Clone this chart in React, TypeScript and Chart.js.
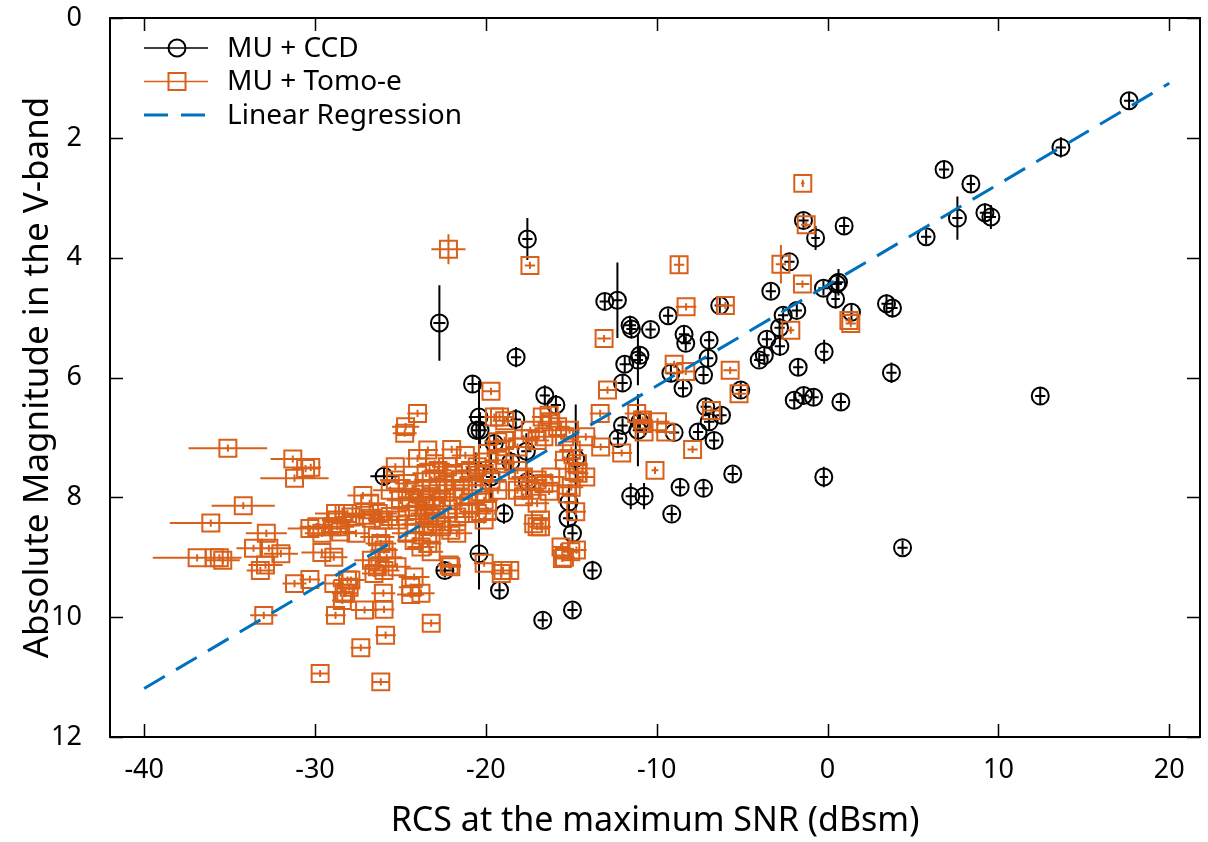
import { useEffect, useRef } from 'react';
import { Chart, registerables } from 'chart.js';

Chart.register(...registerables);

const FONT = "'Noto Sans', 'DejaVu Sans', sans-serif";
const CCD_COLOR = '#000000';
const TOMO_COLOR = '#d9601a';
const FIT_COLOR = '#0072bd';

// Axis ticks
const xTickValues = [-40, -30, -20, -10, 0, 10, 20];
const yTickValues = [0, 2, 4, 6, 8, 10, 12];

// MU + CCD: RCS (dBsm), V-band absolute magnitude and their errors
const ccdRcs = [
  17.65, 13.66, 6.82, 8.39, 7.6, 9.21, 9.56, 5.77, 0.97, -0.7,
  -1.41, 0.64, 0.54, -0.24, 0.47, 1.4, -1.8, 3.45, 3.8, -0.2,
  -1.72, 3.74, -1.95, -1.4, -0.82, 0.78, 12.45, -0.22, 4.39, -2.23,
  -3.32, -6.31, -9.33, -10.36, -11.56, -11.48, -12.3, -13.04, -11.87, -12.0,
  -11.1, -10.98, -8.4, -8.3, -8.46, -9.17, -7.26, -6.93, -6.99, -5.08,
  -3.55, -2.79, -4.0, -3.7, -2.81, -2.6, -7.13, -6.93, -6.21, -7.58,
  -6.64, -8.98, -11.52, -10.74, -8.63, -7.26, -5.55, -9.12, -13.76, -14.93,
  -14.93, -15.19, -15.14, -14.74, -12.0, -12.27, -11.1, -10.98, -17.57, -22.72,
  -18.23, -20.78, -16.55, -15.9, -20.4, -20.34, -20.55, -18.25, -25.96, -19.51,
  -18.54, -17.63, -17.57, -20.6, -19.7, -18.94, -20.4, -22.4, -19.2, -16.67,
];
const ccdMag = [
  1.38, 2.16, 2.53, 2.77, 3.34, 3.25, 3.32, 3.65, 3.47, 3.67,
  3.38, 4.41, 4.44, 4.51, 4.69, 4.91, 4.88, 4.77, 4.84, 5.57,
  5.83, 5.92, 6.38, 6.3, 6.33, 6.41, 6.31, 7.66, 8.84, 4.07,
  4.56, 4.8, 4.97, 5.2, 5.13, 5.19, 4.71, 4.73, 5.78, 6.09,
  5.71, 5.63, 5.28, 5.43, 6.18, 5.93, 5.96, 5.38, 5.68, 6.21,
  5.36, 5.48, 5.71, 5.63, 5.17, 4.96, 6.49, 6.74, 6.63, 6.91,
  7.05, 6.92, 7.98, 7.98, 7.83, 7.85, 7.61, 8.28, 9.22, 9.88,
  8.6, 8.35, 8.08, 7.35, 6.8, 7.02, 6.88, 6.74, 3.69, 5.09,
  5.66, 6.11, 6.3, 6.46, 6.66, 6.88, 6.88, 6.7, 7.65, 7.1,
  7.41, 7.23, 7.74, 7.55, 7.66, 8.27, 8.94, 9.22, 9.55, 10.05,
];
const ccdRcsErr = [
  0.3, 0.3, 0.3, 0.25, 0.3, 0.3, 0.3, 0.3, 0.3, 0.25,
  0.3, 0.3, 0.3, 0.3, 0.25, 0.3, 0.3, 0.3, 0.3, 0.25,
  0.3, 0.3, 0.3, 0.3, 0.3, 0.3, 0.3, 0.25, 0.3, 0.3,
  0.3, 0.3, 0.3, 0.3, 0.35, 0.3, 0.3, 0.3, 0.3, 0.3,
  0.3, 0.3, 0.3, 0.3, 0.3, 0.3, 0.3, 0.3, 0.3, 0.3,
  0.3, 0.3, 0.3, 0.3, 0.3, 0.3, 0.3, 0.3, 0.3, 0.3,
  0.3, 0.3, 0.3, 0.3, 0.3, 0.3, 0.3, 0.3, 0.3, 0.3,
  0.3, 0.3, 0.3, 0.3, 0.3, 0.3, 0.3, 0.3, 0.3, 0.35,
  0.3, 0.3, 0.3, 0.3, 0.6, 0.4, 0.3, 0.3, 0.8, 0.4,
  0.3, 0.3, 0.3, 0.3, 0.3, 0.3, 0.4, 0.5, 0.3, 0.3,
];
const ccdMagErr = [
  0.14, 0.17, 0.15, 0.13, 0.36, 0.16, 0.2, 0.12, 0.13, 0.2,
  0.12, 0.22, 0.12, 0.12, 0.16, 0.13, 0.12, 0.16, 0.16, 0.2,
  0.14, 0.17, 0.13, 0.13, 0.13, 0.13, 0.15, 0.17, 0.12, 0.12,
  0.12, 0.14, 0.12, 0.12, 0.16, 0.16, 0.63, 0.13, 0.13, 0.13,
  0.42, 0.13, 0.13, 0.12, 0.14, 0.14, 0.14, 0.14, 0.14, 0.13,
  0.12, 0.16, 0.12, 0.16, 0.16, 0.12, 0.13, 0.13, 0.13, 0.14,
  0.14, 0.14, 0.22, 0.22, 0.14, 0.14, 0.12, 0.12, 0.16, 0.12,
  0.16, 0.12, 0.3, 0.9, 0.12, 0.12, 0.6, 0.16, 0.35, 0.63,
  0.17, 0.14, 0.17, 0.17, 0.6, 0.3, 0.16, 0.17, 0.16, 0.17,
  0.17, 0.3, 0.22, 0.3, 0.4, 0.17, 0.6, 0.12, 0.14, 0.12,
];

// MU + Tomo-e: RCS (dBsm), V-band absolute magnitude and their errors
const tomoRcs = [
  -35.1, -31.3, -30.55, -30.25, -31.2, -34.2, -36.1, -32.85, -33.6, -32.7,
  -32.0, -36.9, -35.9, -35.6, -35.4, -32.9, -33.2, -30.3, -29.9, -29.6,
  -29.0, -28.7, -28.5, -28.8, -31.2, -30.3, -29.6, -28.9, -28.1, -28.9,
  -28.2, -28.1, -28.4, -28.0, -28.8, -29.7, -33.0, -27.2, -28.3, -27.9,
  -28.7, -27.1, -26.7, -26.3, -26.0, -25.6, -25.2, -24.6, -24.0, -23.6,
  -25.3, -25.6, -24.6, -24.2, -23.2, -22.8, -23.0, -22.8, -23.2, -22.25,
  -21.9, -21.5, -21.3, -20.9, -20.5, -20.1, -21.7, -21.3, -22.05, -21.7,
  -22.6, -23.6, -23.4, -23.2, -23.4, -23.2, -24.6, -24.2, -23.8, -26.35,
  -26.15, -25.96, -25.8, -26.7, -26.35, -25.96, -26.55, -25.2, -24.2, -24.4,
  -23.8, -27.9, -28.3, -27.1, -25.96, -23.2, -25.87, -27.32, -26.15, -22.15,
  -20.1, -19.1, -18.6, -24.0, -24.7, -24.75, -23.4, -25.3, -19.7, -19.5,
  -19.2, -18.9, -19.3, -18.9, -19.9, -19.3, -18.9, -19.7, -19.3, -20.5,
  -20.1, -19.9, -20.5, -20.1, -18.15, -17.8, -17.4, -17.0, -16.6, -18.15,
  -17.8, -17.0, -16.6, -16.2, -18.15, -17.8, -17.4, -17.0, -17.2, -17.0,
  -16.3, -15.8, -15.4, -15.0, -15.4, -14.6, -15.0, -14.7, -15.6, -15.4,
  -16.8, -16.8, -16.7, -16.2, -16.3, -15.1, -17.42, -22.19, -13.08, -12.88,
  -13.31, -14.15, -13.28, -12.05, -11.17, -10.83, -10.74, -9.95, -9.47, -14.15,
  -14.64, -14.83, -14.74, -15.03, -15.52, -15.23, -10.1, -7.9, -8.98, -8.3,
  -5.7, -5.18, -6.8, -8.69, -2.73, -1.47, -8.28, -5.98, -2.15, -1.45,
  -1.25, 1.36, 1.25, -23.8, -23.5, -23.0, -22.6, -22.2, -23.3, -22.9,
  -24.1, -22.4, -21.9, -24.4, -23.5, -21.0, -20.8, -21.2, -22.0, -24.0,
  -25.0, -26.8, -27.6, -26.0, -24.4, -22.05, -19.0,
];
const tomoMag = [
  7.18, 7.36, 7.52, 7.5, 7.68, 8.14, 8.43, 8.6, 8.85, 8.85,
  8.94, 9.01, 9.01, 9.01, 9.05, 9.13, 9.22, 8.52, 8.49, 8.6,
  8.49, 8.49, 8.58, 8.27, 9.44, 9.37, 8.92, 9.0, 8.27, 9.44,
  9.6, 9.38, 9.72, 9.5, 9.97, 10.94, 9.97, 7.97, 8.27, 8.33,
  8.38, 8.3, 8.35, 8.27, 8.38, 8.32, 8.38, 8.16, 8.22, 8.16,
  7.71, 7.88, 7.77, 7.88, 7.71, 7.55, 7.44, 7.88, 7.99, 7.49,
  7.6, 7.71, 7.88, 7.55, 7.49, 7.6, 8.33, 8.27, 8.55, 8.6,
  8.49, 8.27, 8.44, 8.6, 8.77, 8.91, 8.6, 8.72, 8.83, 8.66,
  8.77, 8.88, 9.0, 9.05, 9.16, 9.22, 9.27, 9.16, 9.33, 9.5,
  9.6, 9.38, 9.6, 9.88, 9.87, 10.1, 10.3, 10.51, 11.08, 9.13,
  9.1, 9.27, 9.22, 6.6, 6.82, 6.93, 7.21, 7.49, 6.23, 6.66,
  6.66, 6.72, 7.07, 7.05, 7.27, 7.38, 7.44, 7.71, 7.88, 7.94,
  8.05, 8.22, 8.27, 8.38, 7.16, 7.02, 6.88, 7.05, 6.99, 7.55,
  7.66, 7.71, 7.77, 7.66, 7.88, 7.99, 7.88, 8.1, 8.44, 8.49,
  7.9, 6.82, 6.99, 7.21, 7.38, 7.6, 7.83, 8.88, 8.83, 9.0,
  8.38, 8.49, 6.66, 6.74, 6.63, 6.88, 4.13, 3.86, 5.35, 6.21,
  6.6, 6.99, 7.16, 7.26, 6.6, 6.71, 6.91, 6.74, 6.91, 7.66,
  7.44, 7.57, 8.24, 8.91, 9.02, 7.94, 7.55, 7.2, 5.78, 5.9,
  5.88, 6.27, 6.55, 4.12, 4.11, 4.44, 4.82, 4.8, 5.21, 2.76,
  3.45, 5.1, 5.05, 7.95, 8.05, 8.15, 8.05, 8.2, 8.35, 8.4,
  8.45, 7.8, 8.0, 8.0, 7.6, 8.1, 7.8, 7.3, 7.2, 7.35,
  8.05, 8.1, 8.6, 9.6, 9.62, 9.16, 9.22,
];
const tomoRcsErr = [
  2.3, 1.3, 0.8, 0.6, 2.0, 1.85, 2.4, 1.2, 1.0, 1.3,
  1.0, 2.6, 1.5, 1.2, 1.0, 1.0, 0.8, 1.3, 1.0, 1.0,
  1.2, 1.0, 0.9, 1.2, 0.7, 0.6, 1.2, 0.8, 0.8, 0.6,
  0.7, 0.8, 0.6, 0.6, 0.6, 0.5, 0.8, 0.9, 0.7, 0.8,
  0.9, 1.0, 0.8, 1.1, 0.9, 0.8, 1.0, 0.9, 1.0, 0.8,
  0.9, 1.0, 0.7, 0.9, 1.0, 0.8, 0.9, 1.1, 0.8, 0.9,
  0.8, 1.0, 0.9, 0.8, 0.7, 0.8, 1.0, 0.9, 0.8, 0.9,
  1.0, 0.8, 1.0, 0.9, 0.8, 0.7, 0.9, 1.0, 0.8, 1.0,
  0.9, 0.8, 0.9, 1.0, 0.8, 0.9, 0.7, 0.8, 0.9, 0.7,
  0.8, 0.8, 0.7, 0.8, 0.6, 0.5, 0.6, 0.6, 0.5, 0.7,
  0.6, 0.6, 0.5, 0.6, 0.8, 0.7, 0.6, 0.8, 0.5, 0.6,
  0.8, 0.7, 0.8, 0.6, 0.7, 0.8, 0.6, 0.9, 0.8, 0.7,
  0.8, 0.6, 0.8, 0.7, 0.7, 0.8, 0.6, 0.7, 0.8, 0.8,
  0.7, 0.6, 0.7, 0.8, 0.7, 0.6, 0.8, 0.7, 0.6, 0.5,
  0.6, 0.7, 0.6, 0.7, 0.6, 0.6, 0.7, 0.6, 0.5, 0.6,
  0.5, 0.6, 0.6, 0.7, 0.5, 0.6, 0.3, 1.0, 0.4, 0.5,
  0.6, 0.6, 0.5, 0.6, 0.7, 0.6, 0.5, 0.7, 0.6, 0.5,
  0.6, 0.5, 0.6, 0.5, 0.5, 0.6, 0.2, 0.3, 0.5, 0.5,
  0.4, 0.4, 0.5, 0.3, 0.3, 0.4, 0.6, 0.5, 0.2, 0.1,
  0.3, 0.3, 0.2, 0.9, 1.0, 0.8, 0.9, 0.8, 0.7, 0.9,
  0.8, 0.9, 0.8, 0.7, 0.8, 0.9, 0.7, 0.8, 0.6, 0.7,
  0.8, 0.9, 0.8, 0.7, 0.8, 0.6, 0.6,
];
// most Tomo-e magnitude errors are tiny; a few are larger
const tomoMagErr = tomoRcs.map((_, i) =>
  i === 157 ? 0.25 : i === 184 ? 0.32 : i === 183 ? 0.15 : 0.06,
);

// Linear regression endpoints
const fitRcs = [-40, 20];
const fitMag = [11.19, 1.09];

const toPoints = (xs: number[], ys: number[]) => xs.map((x, i) => ({ x, y: ys[i] }));

const errorBarPlugin = {
  id: 'errorBars',
  beforeDatasetDraw(chart: any, args: any) {
    const ds = chart.data.datasets[args.index];
    if (!ds.errX) return;
    const { ctx, chartArea, scales } = chart;
    const xs = scales.x;
    const ys = scales.y;
    ctx.save();
    ctx.beginPath();
    ctx.rect(chartArea.left, chartArea.top, chartArea.right - chartArea.left, chartArea.bottom - chartArea.top);
    ctx.clip();
    ctx.strokeStyle = ds.borderColor;
    ctx.lineWidth = ds.errWidth;
    ctx.beginPath();
    ds.data.forEach((p: any, i: number) => {
      const px = xs.getPixelForValue(p.x);
      const py = ys.getPixelForValue(p.y);
      const ex = ds.errX[i];
      const ey = ds.errY[i];
      ctx.moveTo(xs.getPixelForValue(p.x - ex), py);
      ctx.lineTo(xs.getPixelForValue(p.x + ex), py);
      ctx.moveTo(px, ys.getPixelForValue(p.y - ey));
      ctx.lineTo(px, ys.getPixelForValue(p.y + ey));
    });
    ctx.stroke();
    ctx.restore();
  },
};

const framePlugin = {
  id: 'frame',
  afterDraw(chart: any) {
    const { ctx, chartArea: a, scales } = chart;
    const tick = 13;
    ctx.save();
    ctx.strokeStyle = '#000';
    ctx.lineWidth = 1.5;
    ctx.beginPath();
    xTickValues.forEach((v) => {
      const px = Math.round(scales.x.getPixelForValue(v)) + 0.5;
      ctx.moveTo(px, a.bottom);
      ctx.lineTo(px, a.bottom - tick);
      ctx.moveTo(px, a.top);
      ctx.lineTo(px, a.top + tick);
    });
    yTickValues.forEach((v) => {
      const py = Math.round(scales.y.getPixelForValue(v)) + 0.5;
      ctx.moveTo(a.left, py);
      ctx.lineTo(a.left + tick, py);
      ctx.moveTo(a.right, py);
      ctx.lineTo(a.right - tick, py);
    });
    ctx.stroke();
    ctx.lineWidth = 2;
    ctx.strokeRect(a.left, a.top, a.right - a.left, a.bottom - a.top);

    // legend
    const rows = [
      { label: 'MU + CCD', color: CCD_COLOR, marker: 'circle' },
      { label: 'MU + Tomo-e', color: TOMO_COLOR, marker: 'rect' },
      { label: 'Linear Regression', color: FIT_COLOR, marker: 'dash' },
    ];
    const x0 = 144;
    const x1 = 208;
    const cx = 177;
    ctx.font = `28px ${FONT}`;
    ctx.textBaseline = 'middle';
    ctx.textAlign = 'left';
    rows.forEach((r, i) => {
      const y = 48 + i * 33.5;
      ctx.strokeStyle = r.color;
      if (r.marker === 'dash') {
        ctx.lineWidth = 3;
        ctx.setLineDash([24, 13]);
        ctx.beginPath();
        ctx.moveTo(x0, y);
        ctx.lineTo(x1 + 2, y);
        ctx.stroke();
        ctx.setLineDash([]);
      } else {
        ctx.lineWidth = 1.5;
        ctx.beginPath();
        ctx.moveTo(x0, y);
        ctx.lineTo(x1, y);
        ctx.stroke();
        ctx.lineWidth = 2;
        ctx.beginPath();
        if (r.marker === 'circle') ctx.arc(cx, y, 8.5, 0, Math.PI * 2);
        else ctx.rect(cx - 8.5, y - 8.5, 17, 17);
        ctx.stroke();
      }
      ctx.fillStyle = '#000';
      ctx.fillText(r.label, 227, y + 1);
    });
    ctx.restore();
  },
};

export default function App() {
  const canvasRef = useRef<HTMLCanvasElement | null>(null);

  useEffect(() => {
    const canvas = canvasRef.current;
    if (!canvas) return;
    const chart = new Chart(canvas, {
      type: 'scatter',
      data: {
        datasets: [
          {
            label: 'MU + CCD',
            data: toPoints(ccdRcs, ccdMag),
            showLine: false,
            pointStyle: 'circle',
            pointRadius: 8.5,
            pointBorderWidth: 2,
            pointBackgroundColor: 'rgba(0,0,0,0)',
            borderColor: CCD_COLOR,
            pointBorderColor: CCD_COLOR,
            errX: ccdRcsErr,
            errY: ccdMagErr,
            errWidth: 2,
            order: 3,
          } as any,
          {
            label: 'MU + Tomo-e',
            data: toPoints(tomoRcs, tomoMag),
            showLine: false,
            pointStyle: 'rect',
            pointRadius: 12,
            pointBorderWidth: 2,
            pointBackgroundColor: 'rgba(0,0,0,0)',
            borderColor: TOMO_COLOR,
            pointBorderColor: TOMO_COLOR,
            errX: tomoRcsErr,
            errY: tomoMagErr,
            errWidth: 2,
            order: 2,
          } as any,
          {
            label: 'Linear Regression',
            type: 'line',
            data: toPoints(fitRcs, fitMag),
            showLine: true,
            borderColor: FIT_COLOR,
            borderWidth: 3,
            borderDash: [24, 13],
            pointRadius: 0,
            fill: false,
            order: 1,
          } as any,
        ],
      },
      options: {
        responsive: false,
        animation: false,
        devicePixelRatio: 1,
        layout: { autoPadding: false, padding: { top: 18, right: 8, left: 0, bottom: 0 } },
        plugins: { legend: { display: false }, tooltip: { enabled: false } },
        scales: {
          x: {
            type: 'linear',
            min: -42,
            max: 21.8,
            grid: { display: false, drawTicks: false },
            border: { display: false },
            afterBuildTicks: (s: any) => {
              s.ticks = xTickValues.map((value) => ({ value }));
            },
            afterFit: (s: any) => {
              s.height = 105;
              s.paddingLeft = 0;
              s.paddingRight = 0;
            },
            ticks: {
              font: { family: FONT, size: 27 },
              color: '#000',
              padding: 17,
              maxRotation: 0,
              autoSkip: false,
            },
            title: {
              display: true,
              text: 'RCS at the maximum SNR (dBsm)',
              font: { family: FONT, size: 34 },
              color: '#000',
              padding: { top: 0, bottom: 0 },
            },
          },
          y: {
            type: 'linear',
            reverse: true,
            min: 0,
            max: 12,
            grid: { display: false, drawTicks: false },
            border: { display: false },
            afterBuildTicks: (s: any) => {
              s.ticks = yTickValues.map((value) => ({ value }));
            },
            afterFit: (s: any) => {
              s.width = 110;
              s.paddingTop = 0;
              s.paddingBottom = 0;
            },
            ticks: {
              font: { family: FONT, size: 27 },
              color: '#000',
              padding: 28,
              autoSkip: false,
            },
            title: {
              display: true,
              text: 'Absolute Magnitude in the V-band',
              font: { family: FONT, size: 35 },
              color: '#000',
              padding: { top: 17, bottom: 0 },
            },
          },
        },
      },
      plugins: [errorBarPlugin, framePlugin],
    });
    return () => chart.destroy();
  }, []);

  return (
    <div style={{ position: 'fixed', left: 0, top: 0, width: 1208, height: 842, background: '#fff' }}>
      <canvas ref={canvasRef} width={1208} height={842} />
    </div>
  );
}
